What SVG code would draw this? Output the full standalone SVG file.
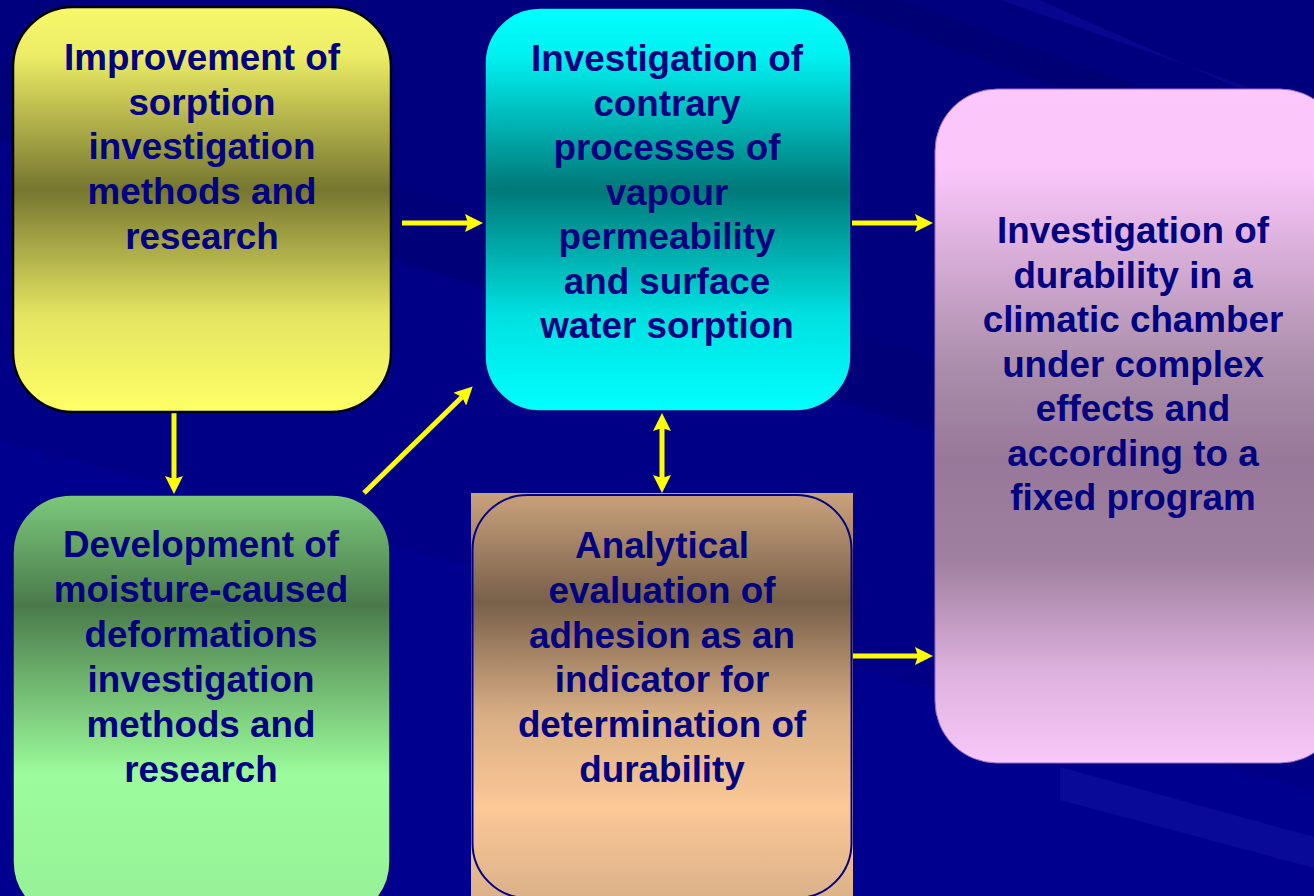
<svg xmlns="http://www.w3.org/2000/svg" width="1314" height="896" viewBox="0 0 1314 896">
<defs>
<style>
.lbl{font-family:"Liberation Sans",Arial,sans-serif;font-weight:bold;font-size:36.8px;fill:#000080;text-anchor:middle}
.conn{stroke:#ffff00;stroke-width:5;fill:none}
</style>
<marker id="ah" viewBox="0 0 18 18" refX="3" refY="9" markerWidth="18" markerHeight="18" markerUnits="userSpaceOnUse" orient="auto-start-reverse">
<path d="M0,0 L18,9 L0,18 L3,9 z" fill="#ffff00"/>
</marker>
<linearGradient id="gY" gradientUnits="userSpaceOnUse" x1="0" y1="7" x2="0" y2="412">
<stop offset="0" stop-color="#f8f86c"/><stop offset="0.12" stop-color="#ecec66"/><stop offset="0.45" stop-color="#767630"/><stop offset="0.76" stop-color="#e4e462"/><stop offset="1" stop-color="#ffff66"/>
</linearGradient>
<linearGradient id="gC" gradientUnits="userSpaceOnUse" x1="0" y1="8" x2="0" y2="411">
<stop offset="0" stop-color="#00ffff"/><stop offset="0.12" stop-color="#00f0f0"/><stop offset="0.45" stop-color="#007878"/><stop offset="0.76" stop-color="#00e0e0"/><stop offset="1" stop-color="#00ffff"/>
</linearGradient>
<linearGradient id="gG" gradientUnits="userSpaceOnUse" x1="0" y1="495" x2="0" y2="920">
<stop offset="0" stop-color="#7cc87c"/><stop offset="0.26" stop-color="#4a7a4a"/><stop offset="0.66" stop-color="#9cfc9c"/><stop offset="1" stop-color="#96f096"/>
</linearGradient>
<linearGradient id="gT" gradientUnits="userSpaceOnUse" x1="0" y1="493" x2="0" y2="896">
<stop offset="0" stop-color="#caa27c"/><stop offset="0.27" stop-color="#78604a"/><stop offset="0.55" stop-color="#d8ae84"/><stop offset="0.78" stop-color="#fcc896"/><stop offset="1" stop-color="#dcb28a"/>
</linearGradient>
<linearGradient id="gP" gradientUnits="userSpaceOnUse" x1="0" y1="89" x2="0" y2="763">
<stop offset="0" stop-color="#fcc8fc"/><stop offset="0.12" stop-color="#fac6fa"/><stop offset="0.42" stop-color="#a88ca8"/><stop offset="0.55" stop-color="#98789a"/><stop offset="0.7" stop-color="#a080a0"/><stop offset="0.86" stop-color="#dcb0dc"/><stop offset="1" stop-color="#f8c8f8"/>
</linearGradient>
</defs>
<g id="background">
<rect x="0" y="0" width="1314" height="896" fill="#00007e"/>
<polygon points="0,120 1314,560 1314,896 0,896" fill="#000086"/>
<polygon points="0,60 1314,480 1314,540 0,140" fill="#000078"/>
<polygon points="0,440 1314,790 1314,896 0,896" fill="#00008e"/>
<polygon points="1060,767 1314,837 1314,868 1060,800" fill="#0a0a98"/>
<polygon points="900,0 1314,150 1314,180 820,0" fill="#000074"/>
<polygon points="1000,0 1314,110 1314,122 1040,0" fill="#06068e"/>
</g>
<g id="connectors">
<line class="conn" x1="402" y1="223" x2="468" y2="223" marker-end="url(#ah)"/>
<line class="conn" x1="852" y1="223" x2="918" y2="223" marker-end="url(#ah)"/>
<line class="conn" x1="852" y1="656" x2="918" y2="656" marker-end="url(#ah)"/>
<line class="conn" x1="174" y1="412" x2="174" y2="479" marker-end="url(#ah)"/>
<line class="conn" x1="662" y1="428" x2="662" y2="478" marker-start="url(#ah)" marker-end="url(#ah)"/>
<line class="conn" x1="364" y1="493" x2="462" y2="397" marker-end="url(#ah)"/>
</g>
<g id="node-sorption">
<rect x="13" y="7" width="378" height="405" rx="60" ry="60" fill="url(#gY)" stroke="#000000" stroke-width="2.5"/>
<text class="lbl"><tspan x="202" y="70">Improvement of</tspan><tspan x="202" y="115">sorption</tspan><tspan x="202" y="159">investigation</tspan><tspan x="202" y="204">methods and</tspan><tspan x="202" y="249">research</tspan></text>
</g>
<g id="node-vapour">
<rect x="485" y="8" width="366" height="403" rx="55" ry="55" fill="url(#gC)" stroke="#000080" stroke-width="1.5"/>
<text class="lbl"><tspan x="667" y="71">Investigation of</tspan><tspan x="667" y="115.5">contrary</tspan><tspan x="667" y="160">processes of</tspan><tspan x="667" y="204.5">vapour</tspan><tspan x="667" y="249">permeability</tspan><tspan x="667" y="293.5">and surface</tspan><tspan x="667" y="338">water sorption</tspan></text>
</g>
<g id="node-deformations">
<rect x="13" y="495" width="377" height="425" rx="58" ry="58" fill="url(#gG)" stroke="#000080" stroke-width="1.5"/>
<text class="lbl"><tspan x="201" y="557">Development of</tspan><tspan x="201" y="602">moisture-caused</tspan><tspan x="201" y="647">deformations</tspan><tspan x="201" y="692">investigation</tspan><tspan x="201" y="737">methods and</tspan><tspan x="201" y="782">research</tspan></text>
</g>
<g id="node-adhesion">
<rect x="471" y="493" width="382" height="403" fill="url(#gT)"/>
<rect x="472.5" y="495" width="379" height="403" rx="55" ry="55" fill="none" stroke="#000080" stroke-width="2"/>
<text class="lbl"><tspan x="662" y="558">Analytical</tspan><tspan x="662" y="603">evaluation of</tspan><tspan x="662" y="647.5">adhesion as an</tspan><tspan x="662" y="692">indicator for</tspan><tspan x="662" y="737">determination of</tspan><tspan x="662" y="782">durability</tspan></text>
</g>
<g id="node-climatic">
<rect x="935" y="89" width="407" height="674" rx="62" ry="62" fill="url(#gP)" stroke="#9a6ac8" stroke-width="1"/>
<text class="lbl"><tspan x="1133" y="243">Investigation of</tspan><tspan x="1133" y="287.5">durability in a</tspan><tspan x="1133" y="332">climatic chamber</tspan><tspan x="1133" y="376.5">under complex</tspan><tspan x="1133" y="421">effects and</tspan><tspan x="1133" y="465.5">according to a</tspan><tspan x="1133" y="510">fixed program</tspan></text>
</g>
</svg>
